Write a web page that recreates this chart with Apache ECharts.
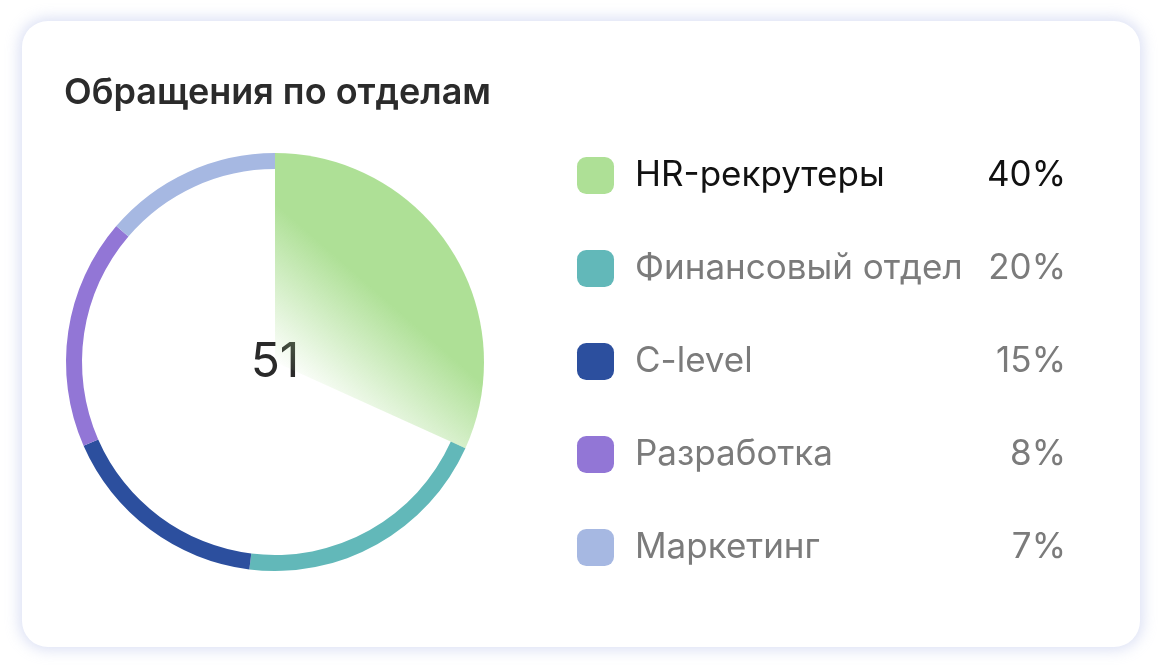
<!DOCTYPE html>
<html>
<head>
<meta charset="utf-8">
<script src="https://cdn.jsdelivr.net/npm/echarts@6/dist/echarts.min.js"></script>
<style>
  html, body { margin: 0; padding: 0; background: #ffffff; width: 1162px; height: 670px; overflow: hidden; }
  #card { position: absolute; left: 22px; top: 21px; width: 1118px; height: 626px; border-radius: 26px;
          background: #fff; box-shadow: 0 0 14px 3px rgba(170, 182, 228, 0.42); }
  #chart { position: absolute; left: 0; top: 0; width: 1162px; height: 670px; }
</style>
</head>
<body>
<div id="card"></div>
<div id="chart"></div>
<script>
// ---- data ----
const categories = ['HR-рекрутеры', 'Финансовый отдел', 'C-level', 'Разработка', 'Маркетинг'];
const sliceValues = [16.2, 10.3, 8.4, 9.1, 7.0];      // slice sizes as drawn
const percentLabels = [40, 20, 15, 8, 7];             // legend percentages
const colors = ['#AEE096', '#62B8B9', '#2C4F9E', '#9276D6', '#A6B8E2'];
const totalLabel = '51';
const titleText = 'Обращения по отделам';
const highlighted = 0;

const chart = echarts.init(document.getElementById('chart'), null, { renderer: 'canvas' });

const gradient = new echarts.graphic.LinearGradient(0, 1, 1, 0.185, [
  { offset: 0.2, color: 'rgba(174,224,150,0)' },
  { offset: 0.58, color: 'rgba(174,224,150,1)' }
]);

const ringData = categories.map((c, i) => ({
  name: c, value: sliceValues[i],
  itemStyle: { color: i === highlighted ? 'rgba(0,0,0,0)' : colors[i] }
}));
const sectorData = categories.map((c, i) => ({
  name: c, value: sliceValues[i],
  itemStyle: { color: i === highlighted ? gradient : 'rgba(0,0,0,0)' }
}));

const pctByName = {};
categories.forEach((c, i) => { pctByName[c] = percentLabels[i]; });

const nameStyle = (color) => ({ fontFamily: 'Inter', fontSize: 35, lineHeight: 37, color: color, width: 330, padding: [0, 0, 0, 16] });
const pctStyle = (color) => ({ fontFamily: 'Inter', fontSize: 35, lineHeight: 37, color: color, width: 101, align: 'right' });

chart.setOption({
  animation: false,
  title: {
    text: titleText, left: 64, top: 75, padding: 0,
    textStyle: { fontFamily: 'Inter', fontSize: 36, fontWeight: 600, color: '#2b2b2b' }
  },
  legend: {
    orient: 'vertical', left: 577, top: 157, padding: 0,
    itemWidth: 37, itemHeight: 37, itemGap: 56,
    icon: 'roundRect', selectedMode: false,
    data: categories.map((c, i) => ({ name: c, itemStyle: { color: colors[i] } })),
    formatter: function (name) {
      const k = categories.indexOf(name) === highlighted ? 'a' : 'b';
      return '{n' + k + '|' + name + '}{p' + k + '|' + pctByName[name] + '%}';
    },
    textStyle: {
      rich: {
        na: nameStyle('#111111'),
        nb: nameStyle('#7b7b7b'),
        pa: pctStyle('#111111'),
        pb: pctStyle('#7b7b7b')
      }
    }
  },
  series: [
    {
      type: 'pie', radius: [193, 209], center: [275, 362], startAngle: 90, clockwise: true,
      silent: true, label: { show: false }, labelLine: { show: false },
      itemStyle: { borderWidth: 0 }, emphasis: { disabled: true },
      data: ringData
    },
    {
      type: 'pie', radius: [0, 209], center: [275, 362], startAngle: 90, clockwise: true,
      silent: true, label: { show: false }, labelLine: { show: false },
      itemStyle: { borderWidth: 0 }, emphasis: { disabled: true },
      data: sectorData
    }
  ],
  graphic: [{
    type: 'text', x: 275, y: 363, silent: true,
    style: { text: totalLabel, fontFamily: 'Inter', fontSize: 48, fill: '#2a2a2a', align: 'center', verticalAlign: 'middle' }
  }]
});
</script>
</body>
</html>
